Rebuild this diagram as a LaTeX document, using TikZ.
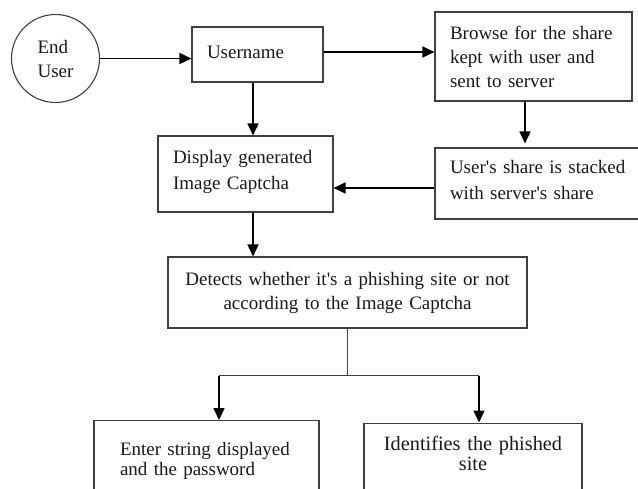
\documentclass[tikz,border=0pt]{standalone}
\usepackage{fontspec}
\setmainfont{Liberation Serif}
\usetikzlibrary{arrows.meta,calc}
\begin{document}
\begin{tikzpicture}[x=1pt,y=-1pt,
  txt/.style={font=\fontsize{19}{24}\selectfont, text=black!90},
  box/.style={txt, draw=black!75, line width=1.1pt, rectangle},
  lbox/.style={box, align=left, inner xsep=15pt, text width=#1},
  cbox/.style={box, align=center, inner xsep=15pt, text width=#1},
  arr/.style={draw=black, line width=1.6pt, -{Triangle[length=12pt,width=11pt]}},
  wire/.style={draw=black!75, line width=1.1pt}
]
\useasboundingbox (0,0) rectangle (638,488);
\begin{scope}
\clip (0,0) rectangle (638,488);

% actor
\node[txt, circle, draw=black!75, line width=1.1pt, minimum size=88pt, inner sep=0pt, align=left]
  (user) at (55.5,58.5) {End\\User};

% top row
\node[lbox=101pt, minimum height=55pt, text depth=5pt] (uname) at (257.5,54.5) {Username};
\node[lbox=167pt, minimum height=89pt] (browse) at (533.5,56.5)
  {Browse for the share\\kept with user and\\sent to server};

% second row
\node[lbox=145pt, minimum height=76pt, font=\fontsize{19}{26}\selectfont, text depth=34pt] (disp) at (245.5,174)
  {Display generated\\Image Captcha};
\node[lbox=185pt, minimum height=71pt, font=\fontsize{19}{26}\selectfont, text depth=34pt] (share) at (542.5,183.5)
  {User\textquotesingle s share is stacked\\with server\textquotesingle s share};

% decision
\node[cbox=329pt, minimum height=71pt] (detect) at (347.5,292.5)
  {Detects whether it\textquotesingle s a phishing site or not\\according to the Image Captcha};

% outcomes (their lower edges run past the frame)
\node[box, anchor=north, align=left, inner xsep=26pt, inner ysep=21.5pt, text width=173pt,
      font=\fontsize{19}{20.5}\selectfont, text depth=40pt] (enter) at (206.5,420)
  {Enter string displayed\\and the password};
\node[box, anchor=north, align=center, inner xsep=15pt, inner ysep=13pt, text width=188pt,
      font=\fontsize{20.3}{20.5}\selectfont, text depth=40pt] (ident) at (473,422.5)
  {Identifies the phished\\site};

% connectors
\draw[arr] (user.east) -- (user.east -| uname.west);
\draw[arr] ([yshift=2.5pt]uname.east) -- ([yshift=2.5pt]uname.east -| browse.west);
\draw[arr] ([xshift=-4.5pt]uname.south) -- ([xshift=-4.5pt]uname.south |- disp.north);
\draw[arr, shorten >=4pt] ([xshift=-8.5pt]browse.south) -- ([xshift=-8.5pt]browse.south |- share.north);
\draw[arr] ([yshift=-4.5pt]share.west) -- ([yshift=-4.5pt]share.west -| disp.east);
\draw[arr] ([xshift=7.5pt]disp.south) -- ([xshift=7.5pt]disp.south |- detect.north);

\coordinate (split) at ($(detect.south)+(0,47)$);
\coordinate (lft) at ([xshift=12.5pt]enter.north |- split);
\coordinate (rgt) at ([xshift=6pt]ident.north |- split);
\draw[wire] (detect.south) -- (split);
\draw[wire] (lft) -- (rgt);
\draw[arr] (lft) -- (lft |- enter.north);
\draw[arr] (rgt) -- (rgt |- ident.north);
\end{scope}
\end{tikzpicture}
\end{document}
